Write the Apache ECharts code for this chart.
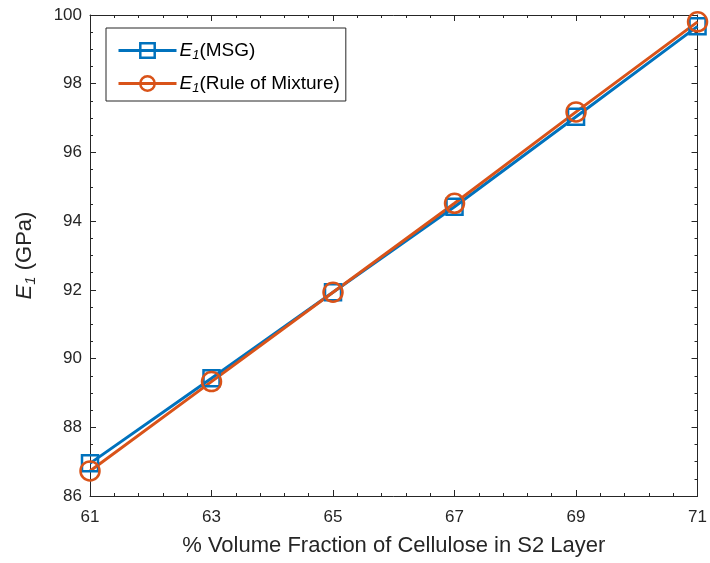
<!DOCTYPE html>
<html>
<head>
<meta charset="utf-8">
<script src="https://cdn.jsdelivr.net/npm/echarts@6/dist/echarts.min.js"></script>
<style>html,body{margin:0;padding:0;background:#fff}#c{width:710px;height:563px}</style>
</head>
<body>
<div id="c"></div>
<script>
const xValues = [61, 63, 65, 67, 69, 71];
const msgValues = [86.95, 89.43, 91.93, 94.42, 97.04, 99.67];
const romValues = [86.73, 89.33, 91.93, 94.52, 97.18, 99.8];
const seriesNames = ['MSG', 'Rule of Mixture'];
const xAxisTitle = '% Volume Fraction of Cellulose in S2 Layer';

const FONT = 'Liberation Sans, Arial, Helvetica, sans-serif';
const TXT = '#262626';
const chart = echarts.init(document.getElementById('c'), null, {renderer: 'canvas'});

function pairs(ys) { return xValues.map((x, i) => [x, ys[i]]); }

const baseAxis = {
  type: 'value',
  axisLine: {show: true, lineStyle: {color: TXT, width: 1}},
  axisTick: {show: true, inside: true, length: 6, lineStyle: {color: TXT, width: 1}},
  minorTick: {show: true, length: 3, lineStyle: {color: TXT, width: 1}},
  splitLine: {show: false},
  minorSplitLine: {show: false}
};

const richLegend = {
  i: {fontStyle: 'italic', fontFamily: FONT, fontSize: 19, color: '#000'},
  s: {fontStyle: 'italic', fontFamily: FONT, fontSize: 13, color: '#000', verticalAlign: 'bottom', padding: [10, 0, 0, 0]},
  t: {fontFamily: FONT, fontSize: 19, color: '#000'}
};

chart.setOption({
  animation: false,
  backgroundColor: '#fff',
  grid: {left: 90, right: 12, top: 15, bottom: 67, containLabel: false},
  legend: {
    left: 106, top: 28, orient: 'vertical',
    backgroundColor: '#fff', borderColor: TXT, borderWidth: 1,
    padding: [13, 6, 6, 11], itemGap: 12, itemWidth: 58, itemHeight: 18,
    data: seriesNames,
    formatter: name => '{i|E}{s|1}{t|(' + name + ')}',
    lineStyle: {width: 3},
    itemStyle: {borderWidth: 2.5},
    textStyle: {rich: richLegend, padding: [0, 0, 0, -2]}
  },
  xAxis: [
    Object.assign({}, baseAxis, {
      min: 61, max: 71, interval: 2, position: 'bottom',
      minorTick: Object.assign({}, baseAxis.minorTick, {splitNumber: 5}),
      axisLabel: {color: TXT, fontFamily: FONT, fontSize: 17, margin: 13},
      name: xAxisTitle, nameLocation: 'middle', nameGap: 39,
      nameTextStyle: {color: TXT, fontFamily: FONT, fontSize: 22}
    }),
    Object.assign({}, baseAxis, {
      min: 61, max: 71, interval: 2, position: 'top',
      minorTick: Object.assign({}, baseAxis.minorTick, {splitNumber: 5}),
      axisLabel: {show: false}
    })
  ],
  yAxis: [
    Object.assign({}, baseAxis, {
      min: 86, max: 100, interval: 2, position: 'left',
      minorTick: Object.assign({}, baseAxis.minorTick, {splitNumber: 4}),
      axisLabel: {color: TXT, fontFamily: FONT, fontSize: 17, margin: 8},
      name: '{i|E}{s|1}{t| (GPa)}', nameLocation: 'middle', nameGap: 52, nameRotate: 90,
      nameTextStyle: {rich: {
        i: {fontStyle: 'italic', fontFamily: FONT, fontSize: 22, color: TXT},
        s: {fontStyle: 'italic', fontFamily: FONT, fontSize: 15, color: TXT, verticalAlign: 'bottom', padding: [12, 0, 0, 0]},
        t: {fontFamily: FONT, fontSize: 22, color: TXT}
      }}
    }),
    Object.assign({}, baseAxis, {
      min: 86, max: 100, interval: 2, position: 'right',
      minorTick: Object.assign({}, baseAxis.minorTick, {splitNumber: 4}),
      axisLabel: {show: false}
    })
  ],
  series: [
    {
      name: seriesNames[0], type: 'line', xAxisIndex: 0, yAxisIndex: 0,
      data: pairs(msgValues),
      symbol: 'rect', symbolSize: 16,
      lineStyle: {color: '#0072BD', width: 3},
      itemStyle: {color: 'rgba(255,255,255,0)', borderColor: '#0072BD', borderWidth: 2.5},
      emphasis: {disabled: true}
    },
    {
      name: seriesNames[1], type: 'line', xAxisIndex: 0, yAxisIndex: 0,
      data: pairs(romValues),
      symbol: 'circle', symbolSize: 19,
      lineStyle: {color: '#D95319', width: 3},
      itemStyle: {color: 'rgba(255,255,255,0)', borderColor: '#D95319', borderWidth: 2.5},
      emphasis: {disabled: true}
    }
  ]
});
</script>
</body>
</html>
